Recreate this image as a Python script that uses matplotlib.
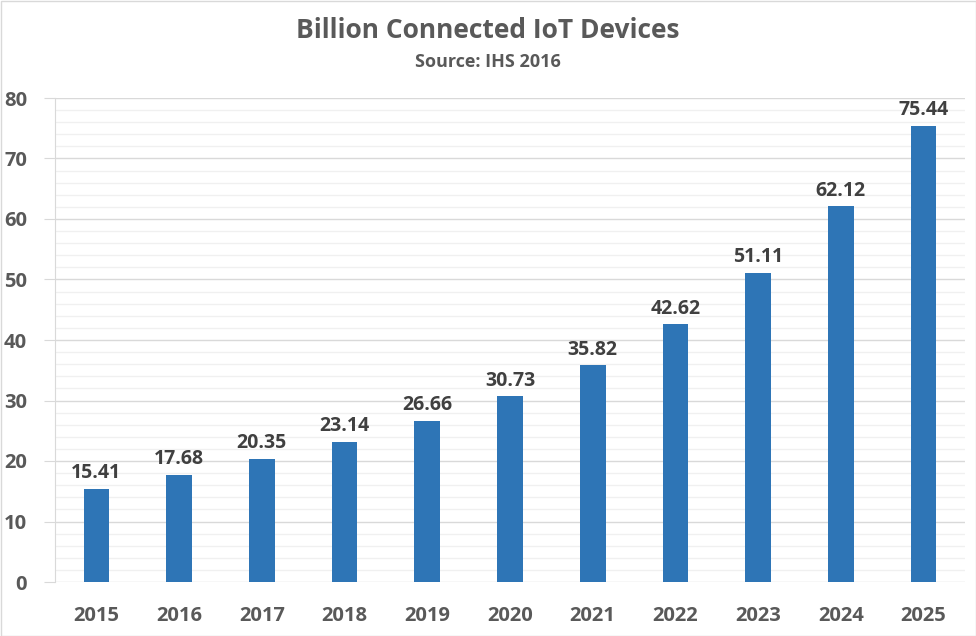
import matplotlib
matplotlib.use("Agg")
import matplotlib.pyplot as plt
from matplotlib.ticker import MultipleLocator
from matplotlib.patches import Rectangle

years = ["2015", "2016", "2017", "2018", "2019", "2020", "2021", "2022", "2023", "2024", "2025"]
values = [15.41, 17.68, 20.35, 23.14, 26.66, 30.73, 35.82, 42.62, 51.11, 62.12, 75.44]

title = "Billion Connected IoT Devices"
subtitle = "Source: IHS 2016"

plt.rcParams['font.family'] = ['Open Sans', 'DejaVu Sans']

fig = plt.figure(figsize=(9.76, 6.36), dpi=100)
ax = fig.add_axes([55/976, 54/636, 910/976, 484/636])

x = list(range(len(years)))
bars = ax.bar(x, values, width=0.31, color="#2E75B6", zorder=3)
for xi, v in zip(x, values):
    ax.annotate(f"{v:.2f}", (xi, v), xytext=(0, 4), textcoords="offset points",
                ha="center", va="bottom", fontsize=14, fontweight="bold", color="#404040")

ax.set_xlim(-0.5, len(years) - 0.5)
ax.set_ylim(0, 80)
ax.yaxis.set_major_locator(MultipleLocator(10))
ax.yaxis.set_minor_locator(MultipleLocator(2))
ax.grid(axis="y", which="major", color="#D9D9D9", linewidth=1, zorder=0)
ax.grid(axis="y", which="minor", color="#F0F0F0", linewidth=1, zorder=0)

ax.set_xticks(x)
ax.set_xticklabels(years)
for s in ["top", "right", "bottom"]:
    ax.spines[s].set_visible(False)
ax.spines["left"].set_color("#D9D9D9")
ax.tick_params(axis="y", which="major", length=8, color="#D9D9D9", pad=12,
               labelsize=14.5, labelcolor="#595959")
ax.tick_params(axis="y", which="minor", length=0)
ax.tick_params(axis="x", length=0, pad=17, labelsize=14.5, labelcolor="#595959")
for lab in ax.get_xticklabels() + ax.get_yticklabels():
    lab.set_fontweight("bold")

fig.text(488/976, 1 - 31/636, title, ha="center", va="center", fontsize=19,
         fontweight="bold", color="#595959")
fig.text(488/976, 1 - 62/636, subtitle, ha="center", va="center", fontsize=13,
         fontweight="bold", color="#595959")

fig.patches.append(Rectangle((0.5/976, 0.5/636), 1 - 1/976, 1 - 1/636,
                             transform=fig.transFigure, fill=False,
                             edgecolor="#D9D9D9", linewidth=1))

fig.savefig("out.png", dpi=100)
